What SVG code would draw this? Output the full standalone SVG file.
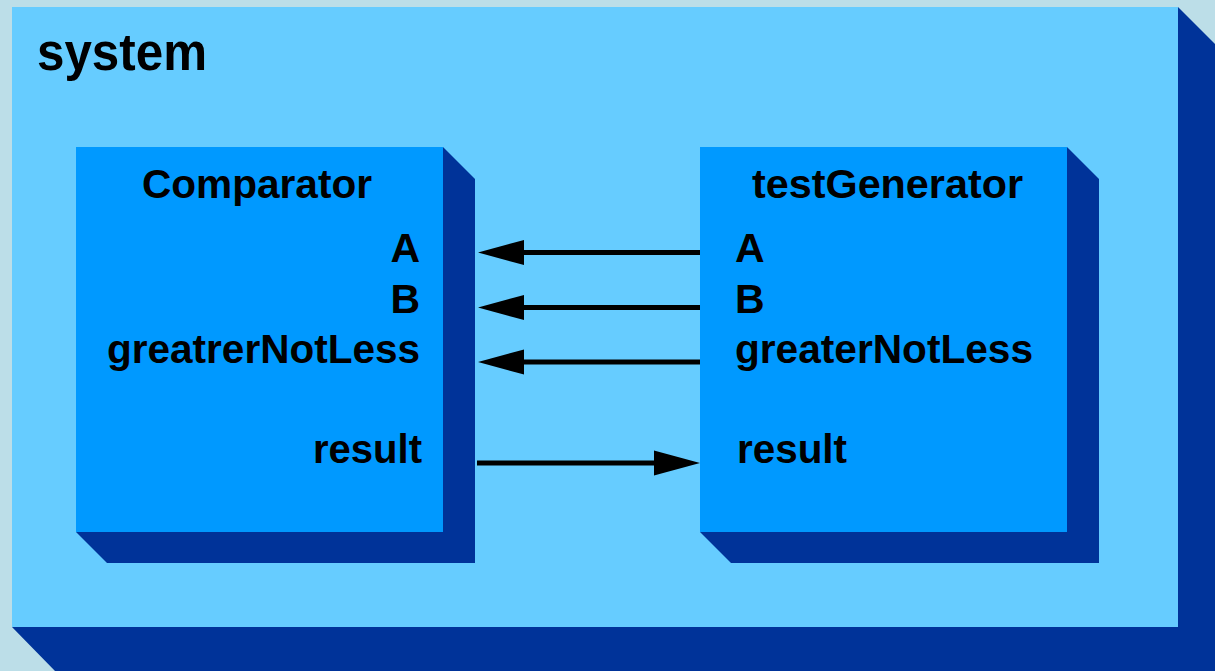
<svg xmlns="http://www.w3.org/2000/svg" width="1215" height="671" viewBox="0 0 1215 671">
  <style>
    .bg { fill: #bcdee8; }
    .shadow { fill: #003399; }
    .outer { fill: #66ccff; }
    .block { fill: #0099ff; }
    text { font-family: "Liberation Sans", Arial, sans-serif; font-weight: bold; fill: #000000; }
    .title { font-size: 51px; }
    .name { font-size: 41px; }
    .port { font-size: 41px; }
    .wire { stroke: #000000; stroke-width: 5; fill: none; marker-end: url(#head); }
  </style>
  <defs>
    <marker id="head" markerUnits="userSpaceOnUse" markerWidth="48" markerHeight="26" refX="0" refY="12.5" orient="auto" overflow="visible">
      <path d="M0,0 L46,12.5 L0,25 Z" fill="#000000"/>
    </marker>
  </defs>

  <rect class="bg" x="0" y="0" width="1215" height="671"/>

  <!-- enclosing system block -->
  <g id="system">
    <polygon class="shadow" points="1178,7 1221,50 1221,671 55,671 12,627 1178,627"/>
    <rect class="outer" x="12" y="7" width="1166" height="620"/>
    <text class="title" x="37" y="70" textLength="170" lengthAdjust="spacingAndGlyphs">system</text>
  </g>

  <!-- Comparator block -->
  <g id="comparator">
    <polygon class="shadow" points="443,147 475,179 475,563 107,563 76,532 443,532"/>
    <rect class="block" x="76" y="147" width="367" height="385"/>
    <text class="name" x="142" y="198" textLength="230" lengthAdjust="spacingAndGlyphs">Comparator</text>
    <text class="port" x="420" y="262" text-anchor="end">A</text>
    <text class="port" x="420" y="313" text-anchor="end">B</text>
    <text class="port" x="420" y="363" text-anchor="end" textLength="313" lengthAdjust="spacingAndGlyphs">greatrerNotLess</text>
    <text class="port" x="422" y="463" text-anchor="end" textLength="109" lengthAdjust="spacingAndGlyphs">result</text>
  </g>

  <!-- testGenerator block -->
  <g id="testGenerator">
    <polygon class="shadow" points="1067,147 1099,179 1099,563 731,563 700,532 1067,532"/>
    <rect class="block" x="700" y="147" width="367" height="385"/>
    <text class="name" x="752" y="198" textLength="271" lengthAdjust="spacingAndGlyphs">testGenerator</text>
    <text class="port" x="735" y="262">A</text>
    <text class="port" x="735" y="313">B</text>
    <text class="port" x="735" y="363" textLength="298" lengthAdjust="spacingAndGlyphs">greaterNotLess</text>
    <text class="port" x="737" y="463" textLength="110" lengthAdjust="spacingAndGlyphs">result</text>
  </g>

  <!-- signal connections -->
  <g id="connectors">
    <line class="wire" x1="700" y1="252.5" x2="524" y2="252.5"/>
    <line class="wire" x1="700" y1="307.5" x2="524" y2="307.5"/>
    <line class="wire" x1="700" y1="362" x2="524" y2="362"/>
    <line class="wire" x1="477" y1="463" x2="654" y2="463"/>
  </g>
</svg>
